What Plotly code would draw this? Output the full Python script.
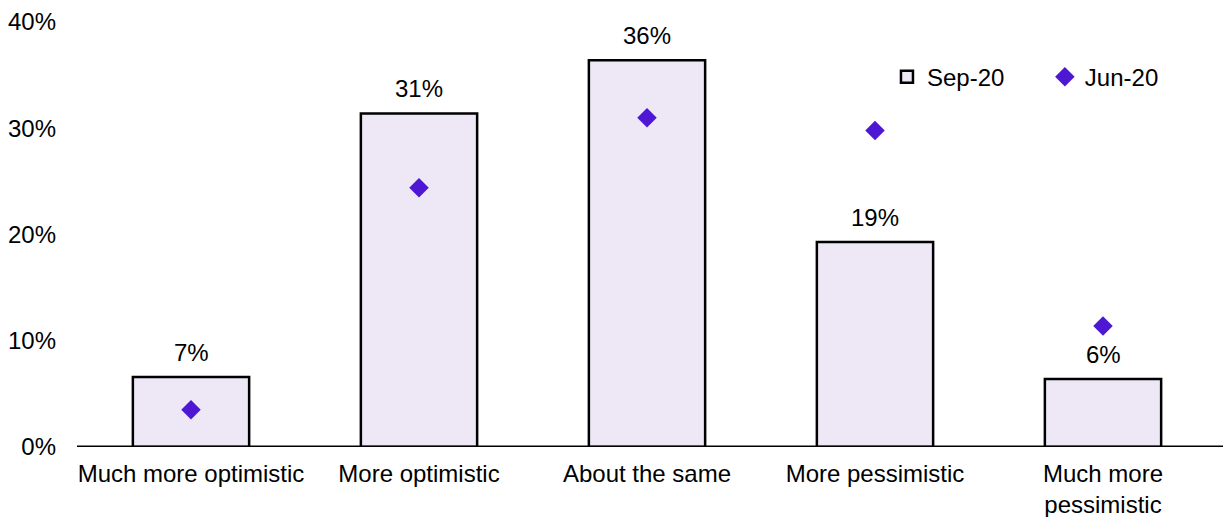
import plotly.graph_objects as go

categories = ["Much more optimistic", "More optimistic", "About the same",
              "More pessimistic", "Much more<br>pessimistic"]
sep20 = [0.066, 0.314, 0.364, 0.193, 0.064]
jun20 = [0.035, 0.244, 0.310, 0.298, 0.114]
y_ticks = [0, 0.1, 0.2, 0.3, 0.4]
y_tick_labels = ["0%", "10%", "20%", "30%", "40%"]

FONT = "Liberation Sans, Arial, sans-serif"
FS = 24

fig = go.Figure()
fig.add_trace(go.Bar(
    x=categories, y=sep20, name="Sep-20", legend="legend",
    marker=dict(color="#EDE7F6", line=dict(color="black", width=2.5)),
))
fig.add_trace(go.Scatter(
    x=categories, y=jun20, name="Jun-20", mode="markers", legend="legend2",
    marker=dict(symbol="diamond", size=15, color="#4E17D3"),
))

for c, v in zip(categories, sep20):
    fig.add_annotation(x=c, y=v, text=f"{round(v * 100)}%", showarrow=False,
                       yanchor="bottom", yshift=9,
                       font=dict(size=FS, color="black", family=FONT))

fig.add_shape(type="line", xref="paper", yref="y", x0=0, x1=1.01, y0=0, y1=0,
              line=dict(color="black", width=3), layer="above")

leg_common = dict(orientation="h", y=0.87, xanchor="left", yanchor="middle",
                  font=dict(size=FS), bgcolor="rgba(0,0,0,0)")

fig.update_layout(
    width=1223, height=517,
    margin=dict(l=77, r=6, t=22, b=70, autoexpand=False),
    plot_bgcolor="white", paper_bgcolor="white",
    font=dict(family=FONT, size=FS, color="black"),
    bargap=0.49,
    showlegend=True,
    legend=dict(x=0.7105, **leg_common),
    legend2=dict(x=0.849, **leg_common),
    xaxis=dict(showline=False, ticks="", ticklabelstandoff=10,
               tickfont=dict(size=FS), showgrid=False),
    yaxis=dict(range=[0, 0.4], tickvals=y_ticks, ticktext=y_tick_labels,
               showgrid=False, showline=False, zeroline=False,
               ticklabelstandoff=20, tickfont=dict(size=FS)),
)

fig.write_html("out.html")
